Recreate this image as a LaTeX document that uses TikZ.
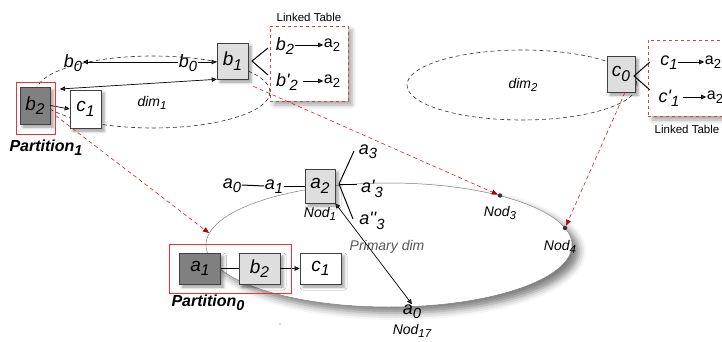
\documentclass[tikz,border=0pt]{standalone}
\usepackage{fontspec}
\setmainfont{Liberation Sans}
\usepackage{graphicx}
\usepackage{xcolor}
\usepackage{tikz}
\usetikzlibrary{arrows.meta,shadows.blur}

\definecolor{boxlight}{HTML}{DEDEDE}
\definecolor{boxdark}{HTML}{808080}
\definecolor{framered}{HTML}{F23030}
\definecolor{tablered}{HTML}{D04444}
\definecolor{dashred}{HTML}{D42020}
\definecolor{tipred}{HTML}{B00000}

\newcommand{\vsub}[2]{\textit{#1\raisebox{-0.45ex}{\scalebox{0.82}{#2}}}}
\newcommand{\usub}[2]{#1\raisebox{-0.45ex}{\scalebox{0.82}{#2}}}

\begin{document}
\begin{tikzpicture}[x=1pt,y=-1pt,
        box/.style={draw=black!75,line width=0.6pt,inner sep=0pt,font=\fontsize{19}{22}\selectfont,
            blur shadow={shadow xshift=3pt,shadow yshift=-3pt,shadow blur radius=3pt,shadow opacity=40}},
        lbox/.style={box,fill=boxlight},
        dbox/.style={box,fill=boxdark},
        wbox/.style={box,fill=white},
        lab/.style={inner sep=0.5pt,font=\fontsize{18}{21}\selectfont},
        nodlab/.style={inner sep=0pt,font=\fontsize{14}{16}\selectfont},
        partlab/.style={inner sep=0pt,font=\fontsize{16}{19}\selectfont\bfseries\itshape},
        redframe/.style={draw=framered,fill=none,line width=1pt,inner sep=0pt},
        ltable/.style={draw=tablered,dashed,line width=0.8pt,fill=white,inner sep=0pt,
            blur shadow={shadow xshift=4pt,shadow yshift=-4pt,shadow blur radius=4pt,shadow opacity=35}},
        arr/.style={-{Triangle[length=5pt,width=4.5pt]},line width=0.7pt},
        darr/.style={{Triangle[length=5pt,width=4.5pt]}-{Triangle[length=5pt,width=4.5pt]},line width=0.7pt},
        reddash/.style={draw=dashred,dash pattern=on 4pt off 3pt,line width=0.6pt,
            -{Triangle[length=6pt,width=5pt,color=tipred]}},
        dimline/.style={draw=black!80,dash pattern=on 4pt off 3pt,line width=0.6pt},
        branch/.style={line width=1pt},
        dot/.style={circle,fill=black!80,inner sep=0pt,minimum size=4.5pt}]
    \clip (0,0) rectangle (722,342);

    % dimensions
    \draw[dimline] (153,92) ellipse [x radius=117pt,y radius=36pt];
    \draw[dimline] (522,85) ellipse [x radius=115pt,y radius=35pt];
    \draw[draw=gray,line width=0.5pt,fill=white,
        blur shadow={shadow xshift=7pt,shadow yshift=-6pt,shadow blur radius=7pt,shadow opacity=50}]
        (389,245) ellipse [x radius=183pt,y radius=62pt];
    \node[nodlab,text=black!65] (primlab) at (387,247) {\textit{Primary dim}};
    \node[nodlab] (dim1lab) at (152,103) {\vsub{dim}{1}};
    \node[nodlab] (dim2lab) at (523,85) {\vsub{dim}{2}};

    % partition 1
    \node[dbox,minimum width=30pt,minimum height=37pt] (b2p) at (35,105.5) {\vsub{b}{2}};
    \node[wbox,minimum width=31pt,minimum height=38pt] (c1p) at (85.5,109) {\vsub{c}{1}};
    \node[partlab] (part1lab) at (46,148) {Partition\raisebox{-0.45ex}{\scalebox{0.9}{1}}};
    \draw[arr] (b2p.east) -- (c1p.west);

    % b1 and its table
    \node[lbox,minimum width=31pt,minimum height=36pt] (b1) at (232.5,61) {\vsub{b}{1}};
    \node[lab] (b0l) at (73,63) {\vsub{b}{0}};
    \node[lab] (b0r) at (188,63) {\vsub{b}{0}};
    \draw[arr] ([yshift=1pt]b0r.west) -- ([yshift=1pt]b0l.east);
    \draw[arr] ([yshift=1pt]b0r.east) -- ([yshift=1pt]b0r.east -| b1.west);
    \coordinate (p1tip) at (60,89);
    \draw[darr] (p1tip) -- (b1.south west);

    \node[ltable,minimum width=78pt,minimum height=75pt] (lt1) at (309,63.5) {};
    \node[inner sep=0pt,font=\fontsize{11.5}{13}\selectfont] (lt1cap) at (309,17) {Linked Table};
    \node[lab] (lt1b) at (285,46) {\vsub{b}{2}};
    \node[inner sep=0.5pt,font=\fontsize{16}{18}\selectfont] (lt1a) at (332,45) {\usub{a}{2}};
    \node[lab] (lt1c) at (287,82) {\vsub{b\textquotesingle}{2}};
    \node[inner sep=0.5pt,font=\fontsize{16}{18}\selectfont] (lt1d) at (332,81) {\usub{a}{2}};
    \draw[arr] ([yshift=1pt]lt1b.east) -- ([yshift=1pt]lt1b.east -| lt1a.west);
    \draw[arr] ([xshift=4pt,yshift=1pt]lt1c.east) -- ([yshift=1pt]lt1c.east -| lt1d.west);
    \coordinate (b1v) at (252,61);
    \coordinate (b1up) at (268,48);
    \coordinate (b1dn) at (268,75);
    \draw[branch] (b1up) -- (b1v) -- (b1dn);

    % c0 and its table
    \node[lbox,minimum width=28pt,minimum height=36pt] (c0) at (621,74) {\vsub{c}{0}};
    \node[ltable,minimum width=112pt,minimum height=76pt] (lt2) at (704,78) {};
    \node[inner sep=0pt,font=\fontsize{11.5}{13}\selectfont] (lt2cap) at (687,129) {Linked Table};
    \node[lab] (lt2c) at (669,63) {\vsub{c}{1}};
    \node[inner sep=0.5pt,font=\fontsize{16}{18}\selectfont] (lt2a) at (713,62) {\usub{a}{2}};
    \node[lab] (lt2e) at (669,98) {\vsub{c\textquotesingle}{1}};
    \node[inner sep=0.5pt,font=\fontsize{16}{18}\selectfont] (lt2d) at (715,97) {\usub{a}{2}};
    \draw[arr] ([yshift=1pt]lt2c.east) -- ([yshift=1pt]lt2c.east -| lt2a.west);
    \draw[arr] ([xshift=3pt,yshift=1pt]lt2e.east) -- ([yshift=1pt]lt2e.east -| lt2d.west);
    \coordinate (c0v) at (634,76);
    \coordinate (c0up) at (650,62);
    \coordinate (c0dn) at (650,90);
    \draw[branch] (c0up) -- (c0v) -- (c0dn);

    % primary dim
    \node[lbox,minimum width=30pt,minimum height=34pt] (nod1) at (320,186) {\vsub{a}{2}};
    \node[nodlab] (nod1lab) at (320,214) {\vsub{Nod}{1}};
    \node[lab] (a0c) at (232,186) {\vsub{a}{0}};
    \node[lab] (a1c) at (274,187) {\vsub{a}{1}};
    \draw[line width=1pt] ([yshift=1pt]a0c.east) -- ([yshift=1pt]a1c.west);
    \draw[line width=1pt] ([yshift=1pt]a1c.east) -- ([yshift=1pt]a1c.east -| nod1.west);
    \coordinate (brv) at (339,184);
    \coordinate (a3end) at (354,151);
    \coordinate (a3pend) at (357,184);
    \coordinate (a3ppend) at (353,219);
    \node[lab] (a3) at (368,152) {\vsub{a}{3}};
    \node[lab] (a3p) at (372,189) {\vsub{a\textquotesingle}{3}};
    \node[lab] (a3pp) at (372,221) {\vsub{a\textquotesingle\textquotesingle}{3}};
    \draw[branch] (a3end) -- (brv) -- (a3ppend);
    \draw[branch] (brv) -- (a3pend);

    \node[lab] (a0b) at (412,312) {\vsub{a}{0}};
    \node[nodlab] (nod17lab) at (412,331) {\vsub{Nod}{17}};
    \draw[darr] (nod1.south east) -- (a0b.north);

    \node[dot] (nod3) at (500,195.5) {};
    \node[nodlab] (nod3lab) at (500,213) {\vsub{Nod}{3}};
    \node[dot] (nod4) at (565,228) {};
    \node[nodlab] (nod4lab) at (560,247) {\vsub{Nod}{4}};
    \coordinate (pe1) at (209,233);

    % partition 0
    \node[dbox,minimum width=41pt,minimum height=31pt] (a1q) at (200,268.5) {\vsub{a}{1}};
    \node[lbox,minimum width=41pt,minimum height=31pt] (b2q) at (259.5,268.5) {\vsub{b}{2}};
    \node[wbox,minimum width=41pt,minimum height=31pt] (c1q) at (320.5,268.5) {\vsub{c}{1}};
    \node[partlab] (part0lab) at (208,303) {Partition\raisebox{-0.45ex}{\scalebox{0.9}{0}}};
    \draw[line width=0.6pt] (a1q.east) -- (b2q.west);
    \draw[arr] (b2q.east) -- (c1q.west);
    \fill[gray] (280,324) circle (0.6pt);

    % partition frames
    \node[redframe,minimum width=39pt,minimum height=51pt] (part1) at (35.5,108.5) {};
    \node[redframe,minimum width=122pt,minimum height=49pt] (part0) at (230,268.5) {};

    % links to the primary dim
    \draw[reddash] ([yshift=-7pt]part1.east) -- (pe1);
    \draw[reddash] ([xshift=5pt,yshift=-7pt]b1.south east) -- (nod3);
    \draw[reddash] ([xshift=4pt]c0.south) -- (nod4);
\end{tikzpicture}
\end{document}
